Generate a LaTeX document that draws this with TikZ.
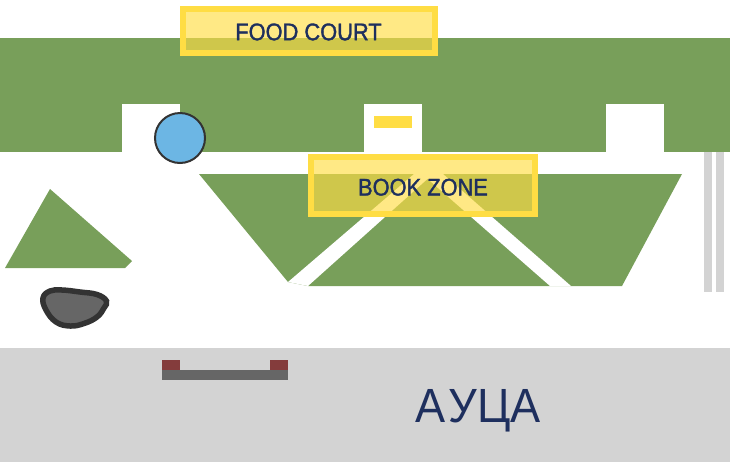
\documentclass[tikz,border=0pt]{standalone}
\usepackage{fontspec}
\setmainfont{Liberation Sans}
\newfontfamily\signfont[FakeStretch=0.91,FakeBold=1.5]{Liberation Sans}
\newfontfamily\bigfont[FakeStretch=0.94]{Liberation Sans}
\usepackage{tikz}
\definecolor{lawn}{HTML}{789F5A}
\definecolor{signyellow}{HTML}{FFDD44}
\definecolor{inknavy}{HTML}{1E2F5E}
\definecolor{roadgray}{HTML}{D3D3D3}
\definecolor{benchgray}{HTML}{666666}
\definecolor{benchred}{HTML}{843C3C}
\definecolor{darkrim}{HTML}{333333}
\definecolor{pondblue}{HTML}{6CB6E4}

\begin{document}
\begin{tikzpicture}[
  x=1pt,y=-1pt,
  lawnfill/.style={fill=lawn},
  cutout/.style={fill=white},
  roadfill/.style={fill=roadgray},
  zonesign/.style={draw=signyellow,line width=6pt,fill=signyellow,fill opacity=0.65,
    text opacity=1,text=inknavy,font=\signfont\fontsize{24}{28}\selectfont,inner sep=0pt,text depth=0pt},
]
\useasboundingbox (0,0) rectangle (730,464);

% ===================================================================
% LAYER 1: Ground
% ===================================================================
\fill[roadfill] (0,348) rectangle (730,462);
\fill[lawnfill] (0,38) rectangle (730,152);

% Gaps along the lawn edge
\foreach \x in {122,364,606} { \fill[cutout] (\x,104) rectangle (\x+58,152); }
\fill[signyellow] (374,116) rectangle (412,128);

% Rails on the right
\foreach \x in {704,716} { \fill[roadfill] (\x,152) rectangle (\x+8,292); }

% ===================================================================
% LAYER 2: Lawn patches and paths
% ===================================================================
\fill[lawnfill] (50,189) -- (132,261) -- (125,268) -- (5,268) -- cycle;
\fill[lawnfill] (199,174) -- (682,174) -- (622,286) -- (308,286) -- (288,282) -- cycle;

% Paths crossing the big patch
\fill[cutout] (414,174) -- (433,174) -- (308,286) -- (288,282) -- cycle;
\fill[cutout] (422,174) -- (443,174) -- (571,286) -- (550,286) -- cycle;

% ===================================================================
% LAYER 3: Objects
% ===================================================================
\node[circle,draw=darkrim,line width=2pt,fill=pondblue,minimum size=50pt,inner sep=0pt] (pond) at (180,138) {};

\draw[darkrim,line width=5.5pt,fill=benchgray] plot[smooth cycle,tension=0.7] coordinates
  {(43,298) (50,291) (62,290) (80,292) (97,294.5) (106.5,301) (104,308) (97,317) (84,323.5) (70,326) (56,322) (46,310)};

% Bench
\fill[benchred] (162,360) rectangle (180,370);
\fill[benchred] (270,360) rectangle (288,370);
\fill[benchgray] (162,370) rectangle (288,380);

% ===================================================================
% LAYER 4: Signs and labels
% ===================================================================
\node[zonesign,minimum width=252pt,minimum height=44pt,text height=18.4pt] (foodcourt) at (308.5,31) {FOOD COURT};
\node[zonesign,minimum width=224pt,minimum height=56.5pt,text height=20pt] (bookzone) at (423,185.5) {BOOK ZONE};
\node[text=inknavy,font=\bigfont\fontsize{48}{56}\selectfont,anchor=base,inner sep=0pt] (auca) at (478,422) {А\kern3ptУЦА};

\end{tikzpicture}
\end{document}
